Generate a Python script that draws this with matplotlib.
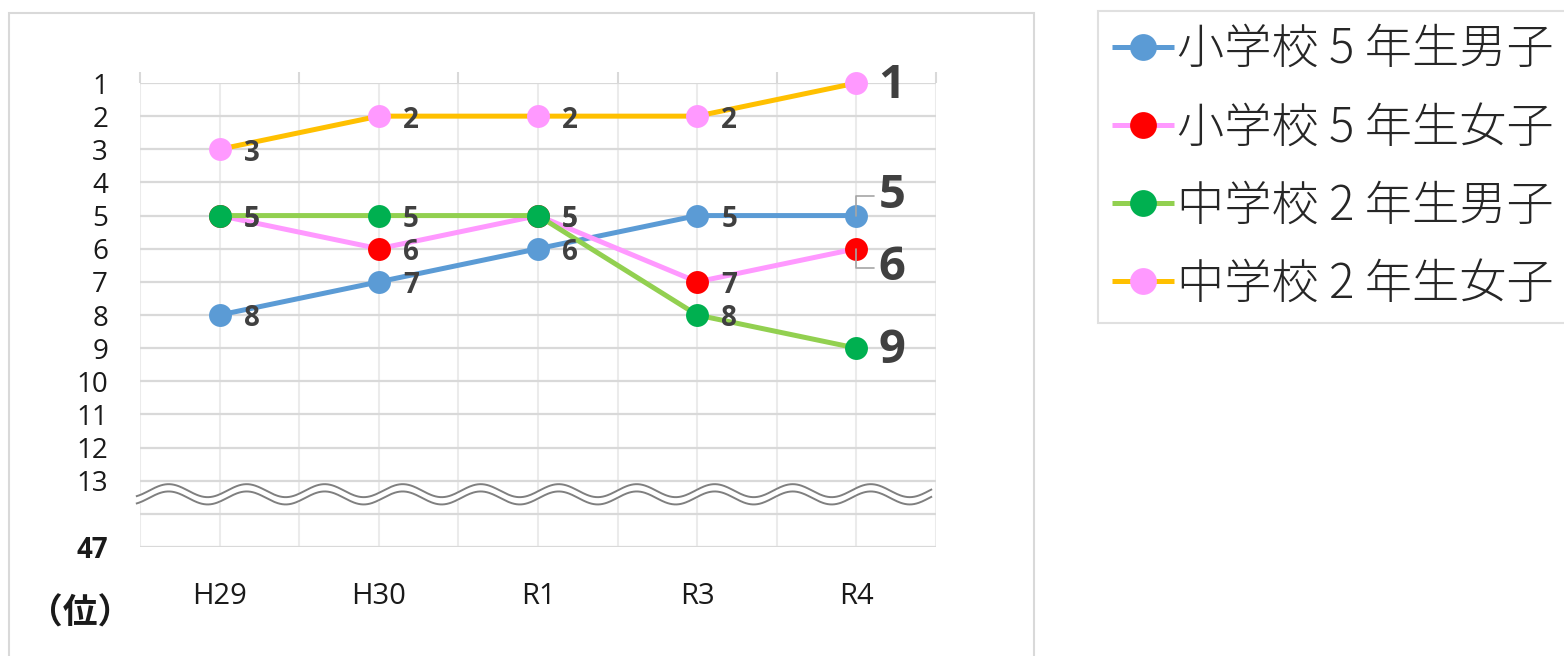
import numpy as np
import matplotlib
matplotlib.use("Agg")
import matplotlib.pyplot as plt
from matplotlib.patches import Rectangle

plt.rcParams['font.family'] = ['Open Sans', 'Noto Sans CJK JP', 'DejaVu Sans']
CJK = ['Noto Sans CJK JP', 'DejaVu Sans']

# ---- data ----
years = ["H29", "H30", "R1", "R3", "R4"]
series_names = ["小学校 5 年生男子", "小学校 5 年生女子", "中学校 2 年生男子", "中学校 2 年生女子"]
sho5_boys = [8, 7, 6, 5, 5]
sho5_girls = [5, 6, 5, 7, 6]
chu2_boys = [5, 5, 5, 8, 9]
chu2_girls = [3, 2, 2, 2, 1]
rank_ticks = list(range(1, 14))
bottom_label = "47"

# ---- style ----
line_colors = ["#5B9BD5", "#FF99FF", "#92D050", "#FFC000"]
marker_colors = ["#5B9BD5", "#FF0000", "#00B050", "#FF99FF"]
# label offset (pixels) of the last (R4) point per series
end_offsets = [(22, 20), (22, -19), (22, -2), (22, -2)]
LABEL_COL = "#404040"

fig = plt.figure(figsize=(15.64, 6.56), dpi=100)
ax = fig.add_axes([140 / 1564, 1 - 547 / 656, (936 - 140) / 1564, (547 - 83) / 656])

x = np.arange(len(years))
ax.set_xlim(-0.5, len(years) - 0.5)
ax.set_ylim(15, 1)

# grid
for yy in range(1, 16):
    ax.axhline(yy, color="#D9D9D9", lw=1.6, zorder=1)
for xx in np.arange(-0.5, len(years), 0.5):
    ax.axvline(xx, color="#EBEBEB", lw=1.5, zorder=0.9)

for s in ax.spines.values():
    s.set_visible(False)

ax.set_xticks(x)
ax.set_xticklabels(years, fontsize=21)
ax.set_xticks(np.arange(-0.5, len(years), 1.0), minor=True)
ax.tick_params(axis="x", which="major", length=0, pad=25, labelcolor="#1a1a1a")
ax.tick_params(axis="x", which="minor", top=True, bottom=False, length=8,
               width=1.5, color="#D9D9D9", direction="out")

ax.set_yticks(rank_ticks + [14, 15])
ax.set_yticklabels([str(r) for r in rank_ticks] + ["", bottom_label], fontsize=20)
ax.tick_params(axis="y", length=0, pad=23, labelcolor="#1a1a1a")
ylbls = ax.get_yticklabels()
ylbls[-1].set_fontweight("bold")

all_series = [sho5_boys, sho5_girls, chu2_boys, chu2_girls]
handles = []
for i, vals in enumerate(all_series):
    h, = ax.plot(x, vals, color=line_colors[i], lw=3.6, marker="o", markersize=16.5,
                 markerfacecolor=marker_colors[i], markeredgewidth=0, zorder=3 + i,
                 label=series_names[i], solid_capstyle="butt", clip_on=False)
    handles.append(h)

# data labels
for i, vals in enumerate(all_series):
    for j, v in enumerate(vals[:-1]):
        ax.annotate(str(v), xy=(x[j], v), xytext=(24, -4), textcoords="offset pixels",
                    ha="left", va="center", fontsize=20, fontweight="bold",
                    color=LABEL_COL, zorder=10)
    dx, dy = end_offsets[i]
    arrow = None
    if abs(dy) > 5:
        arrow = dict(arrowstyle="-", color="#A6A6A6", lw=1.2, shrinkA=1, shrinkB=0,
                     connectionstyle="angle,angleA=0,angleB=90,rad=0")
    ax.annotate(str(vals[-1]), xy=(x[-1], vals[-1]), xytext=(dx, dy),
                textcoords="offset pixels", ha="left", va="center", fontsize=34,
                fontweight="bold", color=LABEL_COL, zorder=10, arrowprops=arrow)

# wavy axis-break mark
wx = np.linspace(-0.52, 4.47, 700)
phase = 2 * np.pi * (wx + 0.32) / 0.49
wave_up = 13.30 - 0.196 * np.cos(phase)
wave_lo = 13.52 - 0.196 * np.cos(phase)
ax.fill_between(wx, wave_up, wave_lo, color="white", zorder=2, clip_on=False)
ax.plot(wx, wave_up, color="#7F7F7F", lw=1.4, zorder=2.5, clip_on=False)
ax.plot(wx, wave_lo, color="#7F7F7F", lw=1.4, zorder=2.5, clip_on=False)

# unit label
fig.text(80 / 1564, 1 - 613 / 656, "（位）", ha="center", va="center", fontsize=25,
         color="#1a1a1a", family=CJK, fontweight="bold")

# chart area border
fig.add_artist(Rectangle((9 / 1564, -0.1), (1034 - 9) / 1564, 1.1 - 13 / 656,
                         transform=fig.transFigure, fill=False,
                         edgecolor="#D9D9D9", lw=1.5))

leg = fig.legend(handles=handles, loc="upper left",
                 bbox_to_anchor=(1098 / 1564, 1 - 11 / 656), borderaxespad=0,
                 prop={"family": CJK, "size": 34, "weight": "light"},
                 frameon=True, fancybox=False, edgecolor="#D9D9D9",
                 handlelength=1.3, handletextpad=0.08, borderpad=0.3,
                 labelspacing=0.62, markerscale=1.17)
leg.get_frame().set_linewidth(1.5)
for t in leg.get_texts():
    t.set_color("#262626")

fig.savefig("out.png", dpi=100)
